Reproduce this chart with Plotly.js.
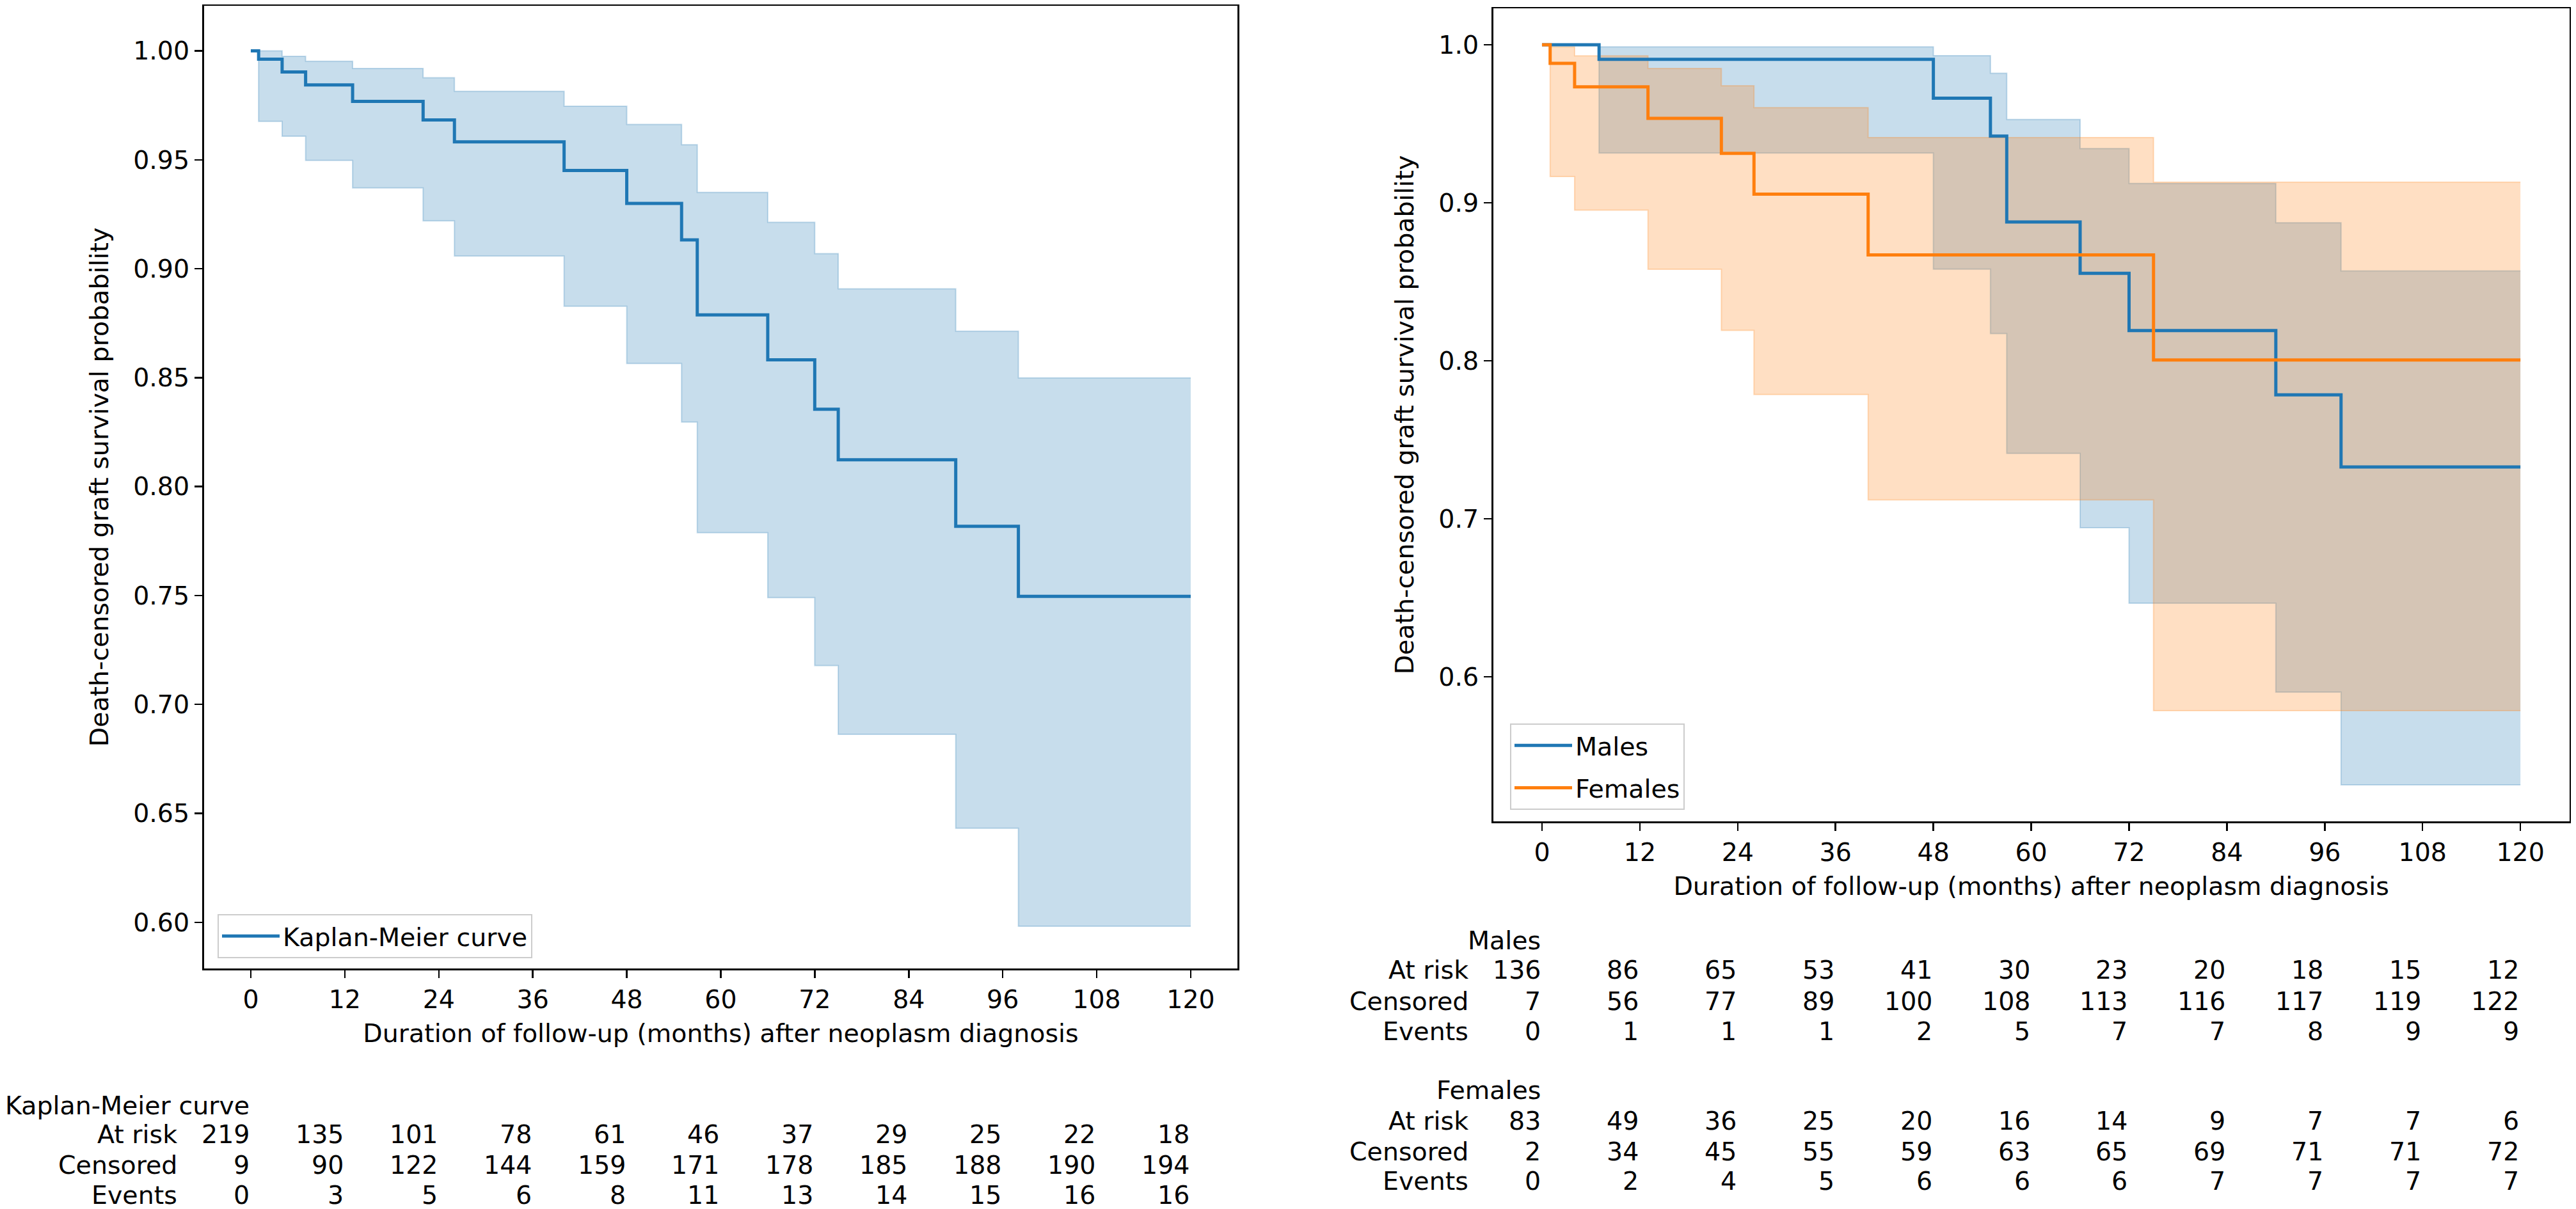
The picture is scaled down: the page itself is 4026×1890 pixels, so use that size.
<!DOCTYPE html>
<html>
<head>
<meta charset="utf-8">
<script src="https://cdn.plot.ly/plotly-3.0.1.min.js"></script>
<style>html,body{margin:0;padding:0;background:#fff;}#chart{width:4026px;height:1890px;}</style>
</head>
<body>
<div id="chart"></div>
<script>
// ---------- DATA ----------
const timeTicks = [0, 12, 24, 36, 48, 60, 72, 84, 96, 108, 120];

// Overall Kaplan-Meier curve
const kmTimes = [0, 1, 4, 7, 13, 22, 26, 40, 48, 55, 57, 66, 72, 75, 90, 98, 120];
const kmSurv  = [1.0, 0.9962, 0.9903, 0.9844, 0.9768, 0.9683, 0.9582, 0.9451, 0.9300, 0.9132, 0.8788, 0.8582, 0.8355, 0.8123, 0.7818, 0.7496, 0.7496];
const kmUpper = [1.0, 1.0, 0.9975, 0.9952, 0.9919, 0.9877, 0.9814, 0.9746, 0.9662, 0.9569, 0.9350, 0.9213, 0.9069, 0.8908, 0.8713, 0.8499, 0.8499];
const kmLower = [1.0, 0.9676, 0.9608, 0.9497, 0.9371, 0.9220, 0.9058, 0.8828, 0.8565, 0.8296, 0.7788, 0.7490, 0.7178, 0.6863, 0.6432, 0.5982, 0.5982];

// Males
const maleTimes = [0, 7, 48, 55, 57, 66, 72, 90, 98, 120];
const maleSurv  = [1.0, 0.9908, 0.9662, 0.9422, 0.8879, 0.8554, 0.8191, 0.7785, 0.7328, 0.7328];
const maleUpper = [1.0, 0.9987, 0.9931, 0.9820, 0.9528, 0.9343, 0.9123, 0.8874, 0.8569, 0.8569];
const maleLower = [1.0, 0.9315, 0.8580, 0.8172, 0.7414, 0.6943, 0.6466, 0.5903, 0.5316, 0.5316];

// Females
const femTimes = [0, 1, 4, 13, 22, 26, 40, 75, 120];
const femSurv  = [1.0, 0.9883, 0.9734, 0.9535, 0.9313, 0.9055, 0.8670, 0.8005, 0.8005];
const femUpper = [1.0, 0.9987, 0.9930, 0.9850, 0.9741, 0.9602, 0.9413, 0.9131, 0.9131];
const femLower = [1.0, 0.9166, 0.8954, 0.8579, 0.8192, 0.7787, 0.7120, 0.5785, 0.5785];

// At-risk tables
const rowLabels = ["At risk", "Censored", "Events"];
const kmAtRisk   = [219, 135, 101, 78, 61, 46, 37, 29, 25, 22, 18];
const kmCensored = [9, 90, 122, 144, 159, 171, 178, 185, 188, 190, 194];
const kmEvents   = [0, 3, 5, 6, 8, 11, 13, 14, 15, 16, 16];
const maleAtRisk   = [136, 86, 65, 53, 41, 30, 23, 20, 18, 15, 12];
const maleCensored = [7, 56, 77, 89, 100, 108, 113, 116, 117, 119, 122];
const maleEvents   = [0, 1, 1, 1, 2, 5, 7, 7, 8, 9, 9];
const femAtRisk   = [83, 49, 36, 25, 20, 16, 14, 9, 7, 7, 6];
const femCensored = [2, 34, 45, 55, 59, 63, 65, 69, 71, 71, 72];
const femEvents   = [0, 2, 4, 5, 6, 6, 6, 7, 7, 7, 7];

// ---------- STYLE ----------
const FONT = 'DejaVu Sans';
const FS = 39.5;
const BLUE = '#1f77b4', ORANGE = '#ff7f0e';
const BLUE_A = 'rgba(31,119,180,0.25)', ORANGE_A = 'rgba(255,127,14,0.25)';
const W = 4026, H = 1890;

function band(x, up, lo, col, xa, ya) {
  return [
    {x: x, y: up, xaxis: xa, yaxis: ya, type: 'scatter', mode: 'lines',
     line: {shape: 'hv', color: col, width: 2}, showlegend: false, hoverinfo: 'skip'},
    {x: x, y: lo, xaxis: xa, yaxis: ya, type: 'scatter', mode: 'lines', fill: 'tonexty',
     fillcolor: col, line: {shape: 'hv', color: col, width: 2}, showlegend: false, hoverinfo: 'skip'}
  ];
}
function curve(x, y, col, name, xa, ya, leg, grp) {
  return {x: x, y: y, xaxis: xa, yaxis: ya, type: 'scatter', mode: 'lines', name: name,
          legend: leg, legendgroup: grp, line: {shape: 'hv', color: col, width: 5}};
}

const traces = [].concat(
  band(kmTimes, kmUpper, kmLower, BLUE_A, 'x', 'y'),
  [curve(kmTimes, kmSurv, BLUE, 'Kaplan-Meier curve', 'x', 'y', 'legend', 'km')],
  band(maleTimes, maleUpper, maleLower, BLUE_A, 'x2', 'y2'),
  band(femTimes, femUpper, femLower, ORANGE_A, 'x2', 'y2'),
  [curve(maleTimes, maleSurv, BLUE, 'Males', 'x2', 'y2', 'legend2', 'm')],
  [curve(femTimes, femSurv, ORANGE, 'Females', 'x2', 'y2', 'legend2', 'f')]
);

// ---------- TABLE ANNOTATIONS ----------
const annotations = [];
function txt(xref, x, py, text, xshift) {
  annotations.push({xref: xref, yref: 'paper', x: x, y: 1 - py / H, text: text,
    showarrow: false, xanchor: 'right', yanchor: 'middle', align: 'right',
    xshift: xshift || 0, font: {family: FONT, size: FS, color: '#000'}});
}
function table(xref, header, rowsPy, headerPy, series) {
  txt(xref, timeTicks[0], headerPy, header, 0);
  series.forEach((vals, r) => {
    txt(xref, timeTicks[0], rowsPy[r], rowLabels[r], -113);
    timeTicks.forEach((t, i) => txt(xref, t, rowsPy[r], String(vals[i]), 0));
  });
}
table('x', 'Kaplan-Meier curve', [1773, 1821, 1868], 1728, [kmAtRisk, kmCensored, kmEvents]);
table('x2', 'Males', [1516, 1565, 1612], 1470, [maleAtRisk, maleCensored, maleEvents]);
table('x2', 'Females', [1752, 1800, 1846], 1704, [femAtRisk, femCensored, femEvents]);

// ---------- LAYOUT ----------
const tickFont = {family: FONT, size: FS, color: '#000'};
const baseX = {
  range: [-6, 126], tickvals: timeTicks, ticktext: timeTicks.map(String),
  ticks: 'outside', ticklen: 12, tickwidth: 2.5, tickcolor: '#000',
  showline: true, linecolor: '#000', linewidth: 2.5, mirror: true,
  showgrid: false, zeroline: false, tickfont: tickFont,
  title: {text: 'Duration of follow-up (months) after neoplasm diagnosis',
          font: {family: FONT, size: FS, color: '#000'}, standoff: 18}
};
const baseY = {
  ticks: 'outside', ticklen: 12, tickwidth: 2.5, tickcolor: '#000',
  showline: true, linecolor: '#000', linewidth: 2.5, mirror: true,
  showgrid: false, zeroline: false, tickfont: tickFont,
  title: {text: 'Death-censored graft survival probability',
          font: {family: FONT, size: FS, color: '#000'}, standoff: 27}
};
const legBase = {
  xanchor: 'left', yanchor: 'bottom', bgcolor: 'rgba(255,255,255,0.8)',
  bordercolor: '#cccccc', borderwidth: 2, font: {family: FONT, size: FS, color: '#000'},
  itemwidth: 90, tracegroupgap: 12
};

const layout = {
  width: W, height: H, margin: {l: 0, r: 0, t: 0, b: 0},
  paper_bgcolor: '#fff', plot_bgcolor: '#fff',
  font: {family: FONT, size: FS, color: '#000'},
  xaxis: Object.assign({}, baseX, {domain: [318.5 / W, 1934.4 / W], anchor: 'y'}),
  yaxis: Object.assign({}, baseY, {domain: [1 - 1514 / H, 1 - 9 / H], anchor: 'x',
    range: [0.5788, 1.0207], tickvals: [0.60, 0.65, 0.70, 0.75, 0.80, 0.85, 0.90, 0.95, 1.00],
    tickformat: '.2f'}),
  xaxis2: Object.assign({}, baseX, {domain: [2333.5 / W, 4015.6 / W], anchor: 'y2'}),
  yaxis2: Object.assign({}, baseY, {domain: [1 - 1284 / H, 1 - 13 / H], anchor: 'x2',
    range: [0.5085, 1.0231], tickvals: [0.6, 0.7, 0.8, 0.9, 1.0], tickformat: '.1f'}),
  legend: Object.assign({}, legBase, {x: 340 / W, y: 1 - 1498 / H}),
  legend2: Object.assign({}, legBase, {x: 2360 / W, y: 1 - 1266 / H}),
  annotations: annotations,
  showlegend: true
};

Plotly.newPlot('chart', traces, layout, {staticPlot: true, displayModeBar: false});
</script>
</body>
</html>
